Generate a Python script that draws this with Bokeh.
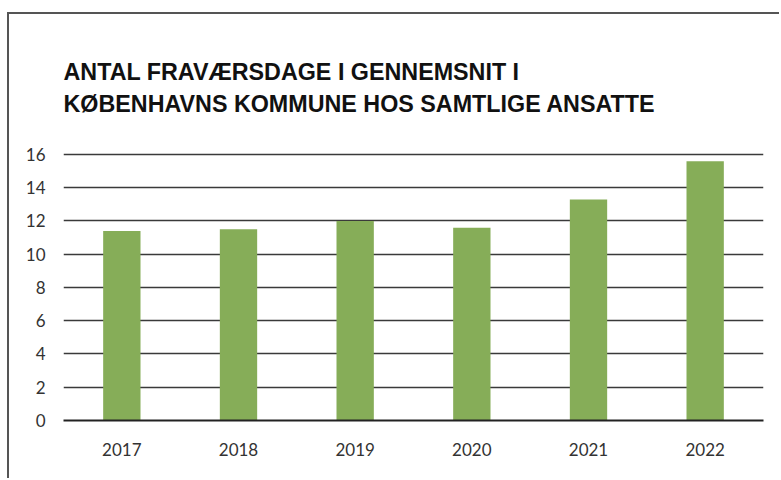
from bokeh.plotting import figure
from bokeh.models import Range1d, FixedTicker, Title
from bokeh.embed import file_html
from bokeh.resources import INLINE

years = ["2017", "2018", "2019", "2020", "2021", "2022"]
days = [11.4, 11.5, 12.0, 11.6, 13.3, 15.6]
y_ticks = [0, 2, 4, 6, 8, 10, 12, 14, 16]
title_lines = ["ANTAL FRAVÆRSDAGE I GENNEMSNIT I",
               "KØBENHAVNS KOMMUNE HOS SAMTLIGE ANSATTE"]

# canvas starts at (9, 14) inside a 2px left/top frame border
p = figure(width=772, height=466, x_range=years, y_range=Range1d(0, 16.12),
           min_border_left=54, min_border_right=18, min_border_top=138,
           min_border_bottom=60, output_backend="svg", toolbar_location=None)
p.x_range.range_padding = 0
p.margin = (12, 0, 0, 7)
p.styles = {"border-left": "2px solid #555555", "border-top": "2px solid #555555"}

p.vbar(x=years, top=days, width=0.32, fill_color="#86ad58", line_color=None)

p.outline_line_color = None
p.background_fill_color = "white"
p.border_fill_color = "white"

p.xgrid.grid_line_color = None
p.ygrid.grid_line_color = "#3a3a3a"
p.ygrid.grid_line_width = 1.4
p.yaxis.ticker = FixedTicker(ticks=y_ticks)

for ax in (p.xaxis, p.yaxis):
    ax.major_tick_line_color = None
    ax.minor_tick_line_color = None
    ax.major_tick_out = 0
    ax.major_tick_in = 0
    ax.major_label_text_font = "Lato"
    ax.major_label_text_font_size = "17px"
    ax.major_label_text_color = "#333333"

p.yaxis.axis_line_color = None
p.yaxis.major_label_standoff = 18
p.xaxis.axis_line_color = "#222222"
p.xaxis.axis_line_width = 2
p.xaxis.major_label_standoff = 22

t = Title(text="\n".join(title_lines), align="left", text_font="Liberation Sans",
          text_font_size="23.3px", text_font_style="bold", text_color="#111111",
          text_line_height=1.245, standoff=70)
p.add_layout(t, "above")

open("out.html", "w").write(file_html(p, INLINE))
